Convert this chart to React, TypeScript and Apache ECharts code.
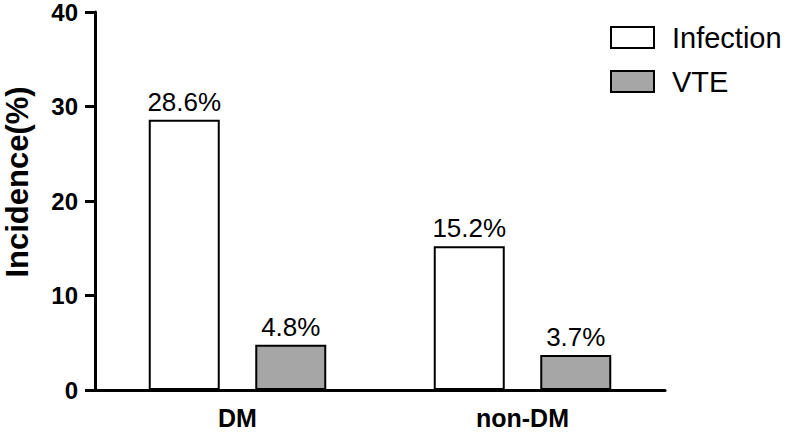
import React, { useEffect, useRef } from "react";
import * as echarts from "echarts";

const categories = ["DM", "non-DM"];
const infection = [28.6, 15.2];
const vte = [4.8, 3.7];
const yTicks = [0, 10, 20, 30, 40];
const seriesNames = ["Infection", "VTE"];

const FONT = "'Liberation Sans', Arial, Helvetica, sans-serif";

export default function App() {
  const ref = useRef<HTMLDivElement>(null);
  useEffect(() => {
    document.body.style.margin = "0";
    if (!ref.current) return;
    const chart = echarts.init(ref.current, undefined, { renderer: "svg" });
    const labelCfg = {
      show: true,
      position: "top" as const,
      distance: 5,
      formatter: (p: any) => `${p.value}%`,
      color: "#000",
      fontSize: 26,
      fontFamily: FONT,
    };
    chart.setOption({
      animation: false,
      backgroundColor: "#fff",
      grid: { left: 95, right: 122, top: 11, bottom: 42, containLabel: false },
      legend: {
        orient: "vertical",
        left: 605,
        top: 18,
        itemWidth: 43,
        itemHeight: 21,
        itemGap: 15,
        icon: "rect",
        selectedMode: false,
        textStyle: {
          fontSize: 29,
          lineHeight: 28,
          color: "#000",
          fontFamily: FONT,
          padding: [0, 0, 0, 13],
        },
        data: seriesNames,
      },
      graphic: [
        {
          type: "text",
          x: 17,
          y: 182,
          rotation: Math.PI / 2,
          style: {
            text: "Incidence(%)",
            fontSize: 31,
            fontWeight: "bold",
            fontFamily: FONT,
            fill: "#000",
            align: "center",
            verticalAlign: "middle",
          },
        },
      ],
      xAxis: {
        type: "category",
        data: categories,
        axisLine: { lineStyle: { color: "#000", width: 3 } },
        axisTick: { alignWithLabel: true, length: 9, lineStyle: { color: "#000", width: 3 } },
        axisLabel: {
          margin: 15,
          color: "#000",
          fontSize: 25,
          lineHeight: 25,
          fontWeight: "bold",
          fontFamily: FONT,
        },
      },
      yAxis: {
        type: "value",
        min: yTicks[0],
        max: yTicks[yTicks.length - 1],
        interval: 10,
        splitLine: { show: false },
        axisLine: { show: true, lineStyle: { color: "#000", width: 3 } },
        axisTick: { show: true, length: 10, lineStyle: { color: "#000", width: 3 } },
        axisLabel: {
          margin: 17,
          color: "#000",
          fontSize: 24,
          fontWeight: "bold",
          fontFamily: FONT,
        },
      },
      series: [
        {
          name: seriesNames[0],
          type: "bar",
          data: infection,
          barWidth: 71,
          barGap: "50%",
          itemStyle: { color: "#ffffff", borderColor: "#000", borderWidth: 2 },
          label: labelCfg,
        },
        {
          name: seriesNames[1],
          type: "bar",
          data: vte,
          barWidth: 71,
          barGap: "50%",
          itemStyle: { color: "#a6a6a6", borderColor: "#000", borderWidth: 2 },
          label: labelCfg,
        },
      ],
    });
    return () => chart.dispose();
  }, []);
  return <div ref={ref} style={{ width: 787, height: 432 }} />;
}
